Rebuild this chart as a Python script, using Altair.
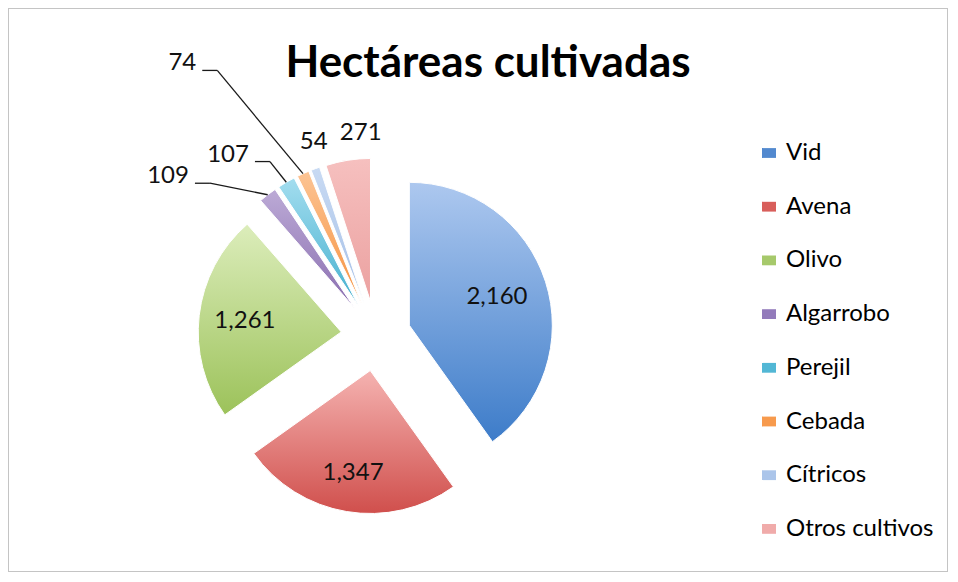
import altair as alt
import pandas as pd

# ---------------- data ----------------
categories = ["Vid", "Avena", "Olivo", "Algarrobo", "Perejil", "Cebada", "Cítricos", "Otros cultivos"]
hectares = [2160, 1347, 1261, 109, 107, 74, 54, 271]
chart_title = "Hectáreas cultivadas"

# ---------------- style ----------------
grad_top = ["#adc8ef", "#f5b3b1", "#dcedbb", "#bcaad6", "#a3ddef", "#fcc494", "#c8daf3", "#f6c0bf"]
grad_bottom = ["#3d7cc9", "#d04f4c", "#9cc25a", "#8a6fb0", "#45b0cf", "#f6913f", "#a6c0e7", "#eba1a0"]
legend_colors = ["#5289cf", "#d85e5b", "#a6c96b", "#937bbb", "#52b7d5", "#f79a4d", "#abc5ea", "#f0abaa"]

FONT = "Lato"
CX, CY = 368, 328        # pie centre (pixels in the view)
R = 143                  # pie radius
EXPLODE = 35             # explosion distance of each slice

# label placement: inside labels -> distance from slice apex;
# small slices -> (kind, angle in degrees, distance from centre)
inside_label_r = {"Vid": 92, "Avena": 104, "Olivo": 97}
callouts = {
    "Algarrobo": ("line", 310.5, 246.0),
    "Perejil": ("line", 325.0, 221.5),
    "Cebada": ("line", 326.6, 326.5),
    "Cítricos": ("top", 342.2, 203.5),
    "Otros cultivos": ("top", 355.7, 203.5),
}

df = pd.DataFrame({"cat": categories, "value": hectares, "idx": list(range(len(categories)))})
df["kind"] = [callouts.get(c, ("inside", 0, 0))[0] for c in categories]
df["lab_ang"] = [callouts.get(c, ("inside", 0, 0))[1] for c in categories]
df["lab_r"] = [callouts.get(c, ("inside", 0, 0))[2] for c in categories]
df["in_r"] = [inside_label_r.get(c, 0) for c in categories]

base = (
    alt.Chart(df)
    .transform_joinaggregate(total="sum(value)")
    .transform_window(cum="sum(value)", sort=[alt.SortField("idx")], frame=[None, 0])
    .transform_calculate(t1="2*PI*datum.cum/datum.total")
    .transform_calculate(t0="2*PI*(datum.cum-datum.value)/datum.total")
    .transform_calculate(mid="(datum.t0+datum.t1)/2")
    .transform_calculate(px=f"{CX}+{EXPLODE}*sin(datum.mid)")
    .transform_calculate(py=f"{CY}-{EXPLODE}*cos(datum.mid)")
    .transform_calculate(ox=f"datum.px+{R}*sin(datum.mid)")
    .transform_calculate(oy=f"datum.py-{R}*cos(datum.mid)")
    .transform_calculate(ix="datum.px+datum.in_r*sin(datum.mid)")
    .transform_calculate(iy="datum.py-datum.in_r*cos(datum.mid)")
    .transform_calculate(lx=f"{CX}+datum.lab_r*sin(datum.lab_ang*PI/180)")
    .transform_calculate(ly=f"{CY}-datum.lab_r*cos(datum.lab_ang*PI/180)")
    .transform_calculate(l0x="datum.lx+6")
    .transform_calculate(l1x="datum.lx+21")
    .transform_calculate(l0y="datum.ly+7")
)

arc_enc = dict(
    x=alt.X("px:Q", scale=None, axis=None),
    y=alt.Y("py:Q", scale=None, axis=None),
    theta=alt.Theta("t0:Q", scale=None, stack=None),
    theta2=alt.Theta2("t1"),
)

layers = []

# invisible layer that carries the legend
layers.append(
    base.mark_arc(outerRadius=R, opacity=0).encode(
        **arc_enc,
        color=alt.Color(
            "cat:N",
            sort=categories,
            scale=alt.Scale(domain=categories, range=legend_colors),
            legend=alt.Legend(
                orient="none",
                legendX=749,
                legendY=133,
                title=None,
                symbolType="M-1,-0.7H1V0.7H-1Z",
                symbolSize=196,
                symbolOpacity=1,
                symbolStrokeWidth=0,
                labelFont=FONT,
                labelFontSize=24,
                labelColor="#000000",
                labelOffset=5,
                rowPadding=29.7,
                labelLimit=300,
            ),
        ),
    )
)

# gradient-filled slices
for c, top, bot in zip(categories, grad_top, grad_bottom):
    layers.append(
        base.transform_filter(alt.datum.cat == c)
        .mark_arc(
            outerRadius=R,
            stroke="white",
            strokeWidth=1,
            fill=alt.LinearGradient(
                gradient="linear",
                stops=[alt.GradientStop(color=top, offset=0), alt.GradientStop(color=bot, offset=1)],
                x1=0, x2=0, y1=0, y2=1,
            ),
        )
        .encode(**arc_enc)
    )

# inside labels
layers.append(
    base.transform_filter(alt.datum.kind == "inside")
    .mark_text(font=FONT, fontSize=24, color="#111111", align="center", baseline="middle")
    .encode(
        x=alt.X("ix:Q", scale=None, axis=None),
        y=alt.Y("iy:Q", scale=None, axis=None),
        text=alt.Text("value:Q", format=","),
    )
)

# leader lines
layers.append(
    base.transform_filter(alt.datum.kind == "line")
    .mark_rule(color="#1a1a1a", strokeWidth=1.3)
    .encode(
        x=alt.X("l0x:Q", scale=None, axis=None),
        x2=alt.X2("l1x"),
        y=alt.Y("l0y:Q", scale=None, axis=None),
        y2=alt.Y2("l0y"),
    )
)
layers.append(
    base.transform_filter(alt.datum.kind == "line")
    .mark_rule(color="#1a1a1a", strokeWidth=1.3)
    .encode(
        x=alt.X("l1x:Q", scale=None, axis=None),
        x2=alt.X2("ox"),
        y=alt.Y("l0y:Q", scale=None, axis=None),
        y2=alt.Y2("oy"),
    )
)

# outside labels with leader lines (right aligned)
layers.append(
    base.transform_filter(alt.datum.kind == "line")
    .mark_text(font=FONT, fontSize=24, color="#111111", align="right", baseline="middle")
    .encode(
        x=alt.X("lx:Q", scale=None, axis=None),
        y=alt.Y("ly:Q", scale=None, axis=None),
        text=alt.Text("value:Q", format=","),
    )
)

# outside labels above slices
layers.append(
    base.transform_filter(alt.datum.kind == "top")
    .mark_text(font=FONT, fontSize=24, color="#111111", align="center", baseline="middle")
    .encode(
        x=alt.X("lx:Q", scale=None, axis=None),
        y=alt.Y("ly:Q", scale=None, axis=None),
        text=alt.Text("value:Q", format=","),
    )
)

# title
layers.append(
    alt.Chart(pd.DataFrame({"t": [chart_title]}))
    .mark_text(font=FONT, fontSize=44, fontWeight="bold", color="#000000", align="center", baseline="alphabetic")
    .encode(x=alt.value(480), y=alt.value(69), text="t:N")
)

chart = (
    alt.layer(*layers)
    .properties(width=940, height=564, autosize=alt.AutoSizeParams(type="none"), padding=0)
    .configure_view(stroke="#c4c4c4", strokeWidth=2)
)

chart.save("out.html", embed_options={"renderer": "svg", "actions": False})
